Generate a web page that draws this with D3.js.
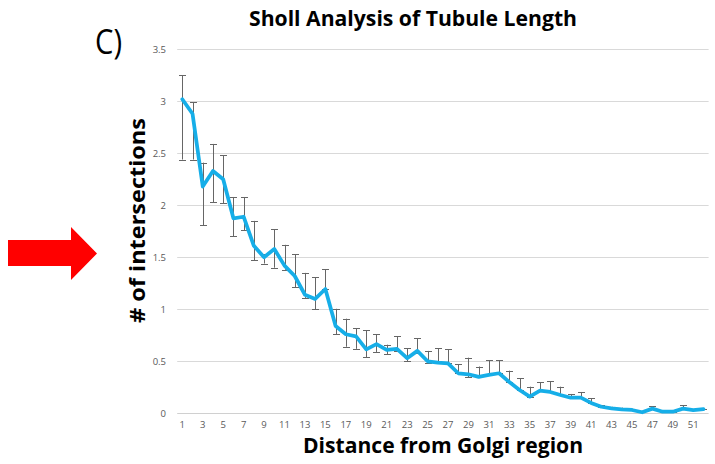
<!DOCTYPE html>
<html>
<head>
<meta charset="utf-8">
<script src="https://cdn.jsdelivr.net/npm/d3@7"></script>
<style>
  html, body { margin: 0; padding: 0; background: #fff; }
  svg { display: block; font-family: "Open Sans", "Noto Sans", sans-serif; }
</style>
</head>
<body>
<div id="chart"></div>
<script>
// Sholl analysis: distance bins from the Golgi region
const categories = [1, 2, 3, 4, 5, 6, 7, 8, 9, 10, 11, 12, 13, 14, 15, 16, 17, 18, 19, 20,
  21, 22, 23, 24, 25, 26, 27, 28, 29, 30, 31, 32, 33, 34, 35, 36, 37, 38, 39, 40,
  41, 42, 43, 44, 45, 46, 47, 48, 49, 50, 51, 52];

// mean number of intersections
const means = [3.02, 2.88, 2.18, 2.33, 2.25, 1.875, 1.89, 1.61, 1.50, 1.58,
  1.42, 1.32, 1.14, 1.10, 1.195, 0.84, 0.76, 0.74, 0.615, 0.665,
  0.61, 0.62, 0.53, 0.60, 0.50, 0.487, 0.48, 0.385, 0.375, 0.35,
  0.37, 0.385, 0.30, 0.224, 0.16, 0.217, 0.205, 0.176, 0.15, 0.15,
  0.10, 0.063, 0.048, 0.038, 0.032, 0.01, 0.045, 0.015, 0.015, 0.045,
  0.03, 0.04];

// error bar ends
const upper = [3.25, 2.99, 2.41, 2.59, 2.48, 2.08, 2.08, 1.85, 1.53, 1.77,
  1.62, 1.53, 1.35, 1.31, 1.385, 1.005, 0.91, 0.82, 0.80, 0.76,
  0.66, 0.74, 0.625, 0.72, 0.60, 0.625, 0.615, 0.47, 0.535, 0.45,
  0.51, 0.51, 0.41, 0.336, 0.256, 0.30, 0.31, 0.256, 0.186, 0.205,
  0.144, 0.08, 0.063, 0.055, 0.045, 0.02, 0.07, 0.02, 0.02, 0.077,
  0.04, 0.045];
const lower = [2.44, 2.44, 1.81, 2.03, 2.02, 1.70, 1.76, 1.47, 1.44, 1.40,
  1.38, 1.21, 1.11, 1.00, 1.195, 0.76, 0.64, 0.62, 0.54, 0.59,
  0.57, 0.60, 0.50, 0.58, 0.48, 0.487, 0.48, 0.385, 0.345, 0.35,
  0.37, 0.385, 0.30, 0.224, 0.16, 0.217, 0.205, 0.176, 0.15, 0.15,
  0.10, 0.063, 0.048, 0.038, 0.032, 0.01, 0.045, 0.015, 0.015, 0.045,
  0.03, 0.04];

const yTicks = [0, 0.5, 1, 1.5, 2, 2.5, 3, 3.5];
const xTickLabels = categories.filter(d => d % 2 === 1);

const width = 715, height = 464;
const plot = { left: 177.2, right: 708.6, top: 49.3, bottom: 413.3 };

const svg = d3.select('#chart').append('svg')
  .attr('width', width)
  .attr('height', height);

const x = d3.scaleBand()
  .domain(categories)
  .range([plot.left, plot.right])
  .padding(0);

const y = d3.scaleLinear()
  .domain([0, 3.5])
  .range([plot.bottom, plot.top]);

const cx = d => x(d) + x.bandwidth() / 2;

// gridlines
svg.append('g')
  .selectAll('line')
  .data(yTicks)
  .enter()
  .append('line')
  .attr('x1', plot.left)
  .attr('x2', plot.right)
  .attr('y1', d => Math.round(y(d)) + 0.5)
  .attr('y2', d => Math.round(y(d)) + 0.5)
  .attr('stroke', d => d === 0 ? '#d0d0d0' : '#d9d9d9')
  .attr('stroke-width', 1);

// y axis tick labels
const yAxis = d3.axisLeft(y)
  .tickValues(yTicks)
  .tickSize(0)
  .tickPadding(0)
  .tickFormat(d => String(d));
svg.append('g')
  .attr('transform', 'translate(166,0)')
  .call(yAxis)
  .call(g => g.select('.domain').remove())
  .call(g => g.selectAll('text')
    .attr('fill', '#595959')
    .attr('font-size', 9.5)
    .attr('font-family', '"Open Sans", sans-serif'));

// x axis tick labels (odd bins only)
const xAxis = d3.axisBottom(x)
  .tickValues(xTickLabels)
  .tickSize(0)
  .tickPadding(0);
svg.append('g')
  .attr('transform', 'translate(0,421)')
  .call(xAxis)
  .call(g => g.select('.domain').remove())
  .call(g => g.selectAll('text')
    .attr('fill', '#595959')
    .attr('font-size', 9.5)
    .attr('font-family', '"Open Sans", sans-serif'));

// error bars
const capHalf = 3.5;
const errs = svg.append('g')
  .attr('stroke', '#666')
  .attr('stroke-width', 1)
  .selectAll('g')
  .data(categories.map((c, i) => ({ c, hi: upper[i], lo: lower[i] })))
  .enter()
  .append('g');

errs.append('line')
  .attr('x1', d => Math.round(cx(d.c)) + 0.5)
  .attr('x2', d => Math.round(cx(d.c)) + 0.5)
  .attr('y1', d => y(d.hi))
  .attr('y2', d => y(d.lo));
errs.append('line')
  .attr('x1', d => Math.round(cx(d.c)) + 0.5 - capHalf)
  .attr('x2', d => Math.round(cx(d.c)) + 0.5 + capHalf)
  .attr('y1', d => Math.round(y(d.hi)) + 0.5)
  .attr('y2', d => Math.round(y(d.hi)) + 0.5);
errs.append('line')
  .attr('x1', d => Math.round(cx(d.c)) + 0.5 - capHalf)
  .attr('x2', d => Math.round(cx(d.c)) + 0.5 + capHalf)
  .attr('y1', d => Math.round(y(d.lo)) + 0.5)
  .attr('y2', d => Math.round(y(d.lo)) + 0.5);

// mean line
const line = d3.line()
  .x(d => cx(d.c))
  .y(d => y(d.v));
svg.append('path')
  .datum(categories.map((c, i) => ({ c, v: means[i] })))
  .attr('d', line)
  .attr('fill', 'none')
  .attr('stroke', '#16aee8')
  .attr('stroke-width', 3.75)
  .attr('stroke-linejoin', 'round')
  .attr('stroke-linecap', 'round');

// title (squeezed to the narrower original face)
svg.append('text')
  .attr('x', 249)
  .attr('y', 26)
  .attr('font-weight', 'bold')
  .attr('font-size', 21)
  .attr('textLength', 328)
  .attr('lengthAdjust', 'spacingAndGlyphs')
  .attr('fill', '#000')
  .text('Sholl Analysis of Tubule Length');

// panel letter
svg.append('text')
  .attr('x', 95)
  .attr('y', 54)
  .attr('font-size', 35)
  .attr('textLength', 27)
  .attr('lengthAdjust', 'spacingAndGlyphs')
  .attr('fill', '#000')
  .text('C)');

// axis titles
svg.append('text')
  .attr('x', 303)
  .attr('y', 453)
  .attr('font-weight', 'bold')
  .attr('font-size', 21)
  .attr('textLength', 280)
  .attr('lengthAdjust', 'spacingAndGlyphs')
  .attr('fill', '#000')
  .text('Distance from Golgi region');

svg.append('text')
  .attr('transform', 'translate(145,323) rotate(-90)')
  .attr('font-weight', 'bold')
  .attr('font-size', 22)
  .attr('textLength', 205)
  .attr('lengthAdjust', 'spacingAndGlyphs')
  .attr('fill', '#000')
  .text('# of intersections');

// red arrow pointing at the y axis title
const arrowPts = [[8, 240], [71, 240], [71, 227], [97, 253.5], [71, 280], [71, 266], [8, 266]];
svg.append('path')
  .attr('d', d3.line()(arrowPts) + 'Z')
  .attr('fill', '#ff0000');
</script>
</body>
</html>
